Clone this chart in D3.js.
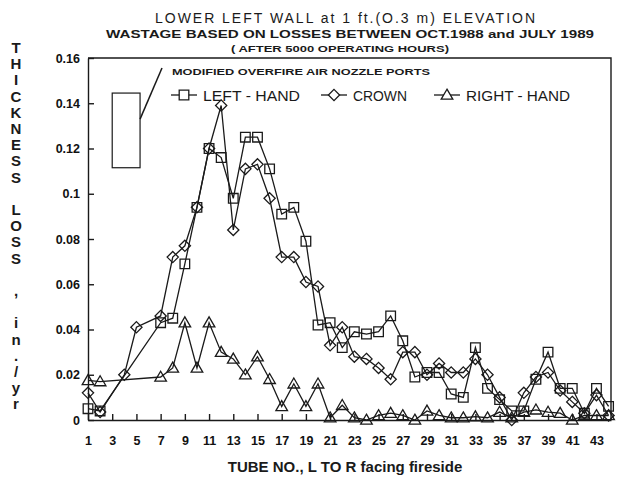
<!DOCTYPE html>
<html>
<head>
<meta charset="utf-8">
<title>Lower left wall wastage</title>
<script src="https://d3js.org/d3.v7.min.js"></script>
<style>
    body { margin: 0; background: #fff; }
    svg { display: block; font-family: "Liberation Sans", Arial, sans-serif; }
    .tick text { font-weight: bold; font-size: 12.5px; fill: #111; }
</style>
</head>
<body>
<svg width="621" height="478"></svg>
<script>
    // tube numbers and thickness loss (in./yr)
    const leftTubes = [1,2,7,8,9,10,11,12,13,14,15,16,17,18,19,20,21,22,23,24,25,26,27,28,29,30,31,32,33,34,35,36,37,38,39,40,41,42,43,44];
    const leftVals = [0.005,0.004,0.043,0.045,0.069,0.094,0.120,0.116,0.098,0.125,0.125,0.111,0.091,0.094,0.079,0.042,0.043,0.032,0.039,0.038,0.039,0.046,0.035,0.019,0.021,0.021,0.0115,0.010,0.032,0.014,0.009,0.004,0.004,0.018,0.030,0.014,0.014,0.003,0.014,0.006];

    const crownTubes = [1,2,4,5,7,8,9,10,11,12,13,14,15,16,17,18,19,20,21,22,23,24,25,26,27,28,29,30,31,32,33,34,35,36,37,38,39,40,41,42,43,44];
    const crownVals = [0.012,0.0035,0.020,0.041,0.046,0.072,0.077,0.094,0.120,0.139,0.084,0.111,0.113,0.098,0.072,0.072,0.061,0.059,0.033,0.041,0.028,0.027,0.023,0.018,0.030,0.030,0.020,0.025,0.021,0.021,0.027,0.020,0.010,0,0.012,0.019,0.021,0.013,0.008,0.003,0.011,0.002];

    const rightTubes = [1,2,7,8,9,10,11,12,13,14,15,16,17,18,19,20,21,22,23,24,25,26,27,28,29,30,31,32,33,34,35,36,37,38,39,40,41,42,43,44];
    const rightVals = [0.0175,0.017,0.019,0.023,0.043,0.023,0.043,0.030,0.027,0.020,0.028,0.018,0.006,0.016,0.006,0.016,0.001,0.0065,0.001,0,0.002,0.003,0.002,0,0.004,0.002,0.001,0.001,0.0015,0.001,0.0035,0.001,0.0035,0.0045,0.0035,0.003,0,0.002,0.002,0.002];

    const xTicks = d3.range(1, 44, 2);
    const yTicks = [0, 0.02, 0.04, 0.06, 0.08, 0.1, 0.12, 0.14, 0.16];
    const seriesNames = ["LEFT - HAND", "CROWN", "RIGHT - HAND"];
    const yLetters = ["T","H","I","C","K","N","E","S","S","","L","O","S","S","",",","","i","n",".","/","y","r"];
    // overfire air nozzle ports marker (tube range, loss range)
    const portTubes = [3, 5.3];
    const portVals = [0.1115, 0.1445];

    const ink = "#1a1a1a";
    let svg = d3.select("svg");
    let x = d3.scaleLinear().domain([1, 44.2]).range([88, 611]);
    let y = d3.scaleLinear().domain([0, 0.16]).range([420, 58]);

    // marker shapes
    function marker(kind) {
        if (kind == 0) return "M-4.8,-4.8H4.8V4.8H-4.8Z";
        if (kind == 1) return "M0,-5.6L5.6,0L0,5.6L-5.6,0Z";
        return "M0,-5.8L5.8,4.2H-5.8Z";
    }

    // titles
    svg.append("text").attr("x", 345).attr("y", 23).attr("text-anchor", "middle")
        .attr("font-size", 14).attr("fill", ink).attr("textLength", 380)
        .text("LOWER LEFT WALL at 1 ft.(O.3 m) ELEVATION");
    svg.append("text").attr("x", 350).attr("y", 38).attr("text-anchor", "middle")
        .attr("font-size", 11).attr("font-weight", "bold").attr("fill", ink)
        .attr("textLength", 488).attr("lengthAdjust", "spacingAndGlyphs")
        .text("WASTAGE BASED ON LOSSES BETWEEN OCT.1988 and JULY 1989");
    svg.append("text").attr("x", 340).attr("y", 52).attr("text-anchor", "middle")
        .attr("font-size", 8.5).attr("font-weight", "bold").attr("fill", ink)
        .attr("textLength", 218).attr("lengthAdjust", "spacingAndGlyphs")
        .text("( AFTER 5000 OPERATING HOURS)");

    // axes
    let xAxis = d3.axisBottom(x).tickValues(xTicks).tickSizeInner(-6).tickSizeOuter(0).tickPadding(16);
    let yAxis = d3.axisLeft(y).tickValues(yTicks).tickSizeInner(-6).tickSizeOuter(0).tickPadding(8)
        .tickFormat(d => d == 0 ? "0" : String(+d.toFixed(2)));

    let gx = svg.append("g").attr("transform", "translate(0,420)").call(xAxis);
    let gy = svg.append("g").attr("transform", "translate(88,0)").call(yAxis);
    svg.selectAll(".domain, .tick line").attr("stroke", ink).attr("stroke-width", 1.4);
    gx.selectAll(".tick text").attr("font-size", 13);

    // frame top/right
    svg.append("path")
        .attr("d", `M${x(1)},${y(0.16)}H${x(44.2)}V${y(0)}`)
        .attr("fill", "none").attr("stroke", ink).attr("stroke-width", 1.4);

    // axis titles
    svg.append("text").attr("x", 345).attr("y", 472).attr("text-anchor", "middle")
        .attr("font-size", 15).attr("font-weight", "bold").attr("fill", ink)
        .text("TUBE NO., L TO R facing fireside");

    svg.append("g").selectAll("text").data(yLetters).enter().append("text")
        .attr("x", 16).attr("y", (d, i) => 53 + i * 16.2)
        .attr("text-anchor", "middle").attr("font-size", 15).attr("font-weight", "900")
        .attr("fill", ink).text(d => d);

    // series
    let series = [
        { tubes: leftTubes, vals: leftVals },
        { tubes: crownTubes, vals: crownVals },
        { tubes: rightTubes, vals: rightVals }
    ];
    let line = d3.line().x(d => x(d[0])).y(d => y(d[1]));

    series.forEach(function(s, k) {
        let pts = s.tubes.map((t, i) => [t, s.vals[i]]);
        svg.append("path").datum(pts).attr("d", line)
            .attr("fill", "none").attr("stroke", ink).attr("stroke-width", 1.3);
        svg.append("g").selectAll("path").data(pts).enter().append("path")
            .attr("transform", d => `translate(${x(d[0])},${y(d[1])})`)
            .attr("d", marker(k))
            .attr("fill", "none").attr("stroke", ink).attr("stroke-width", 1.3);
    });

    // nozzle ports box and pointer
    svg.append("rect")
        .attr("x", x(portTubes[0])).attr("y", y(portVals[1]))
        .attr("width", x(portTubes[1]) - x(portTubes[0]))
        .attr("height", y(portVals[0]) - y(portVals[1]))
        .attr("fill", "none").attr("stroke", ink).attr("stroke-width", 1.2);
    svg.append("line")
        .attr("x1", x(portTubes[1])).attr("y1", y(0.133))
        .attr("x2", 162).attr("y2", 68)
        .attr("stroke", ink).attr("stroke-width", 1.5);
    svg.append("text").attr("x", 172).attr("y", 75)
        .attr("font-size", 9).attr("font-weight", "900").attr("fill", ink)
        .attr("textLength", 258).attr("lengthAdjust", "spacingAndGlyphs")
        .text("MODIFIED OVERFIRE AIR NOZZLE PORTS");

    // legend
    let legX = [171, 321, 434];
    let legW = [97, 54, 104];
    let leg = svg.append("g");
    seriesNames.forEach(function(name, k) {
        let g = leg.append("g").attr("transform", `translate(${legX[k]},95)`);
        g.append("line").attr("x1", 0).attr("x2", 26).attr("stroke", ink).attr("stroke-width", 1.3);
        g.append("path").attr("transform", "translate(13,0)").attr("d", marker(k))
            .attr("fill", "#fff").attr("stroke", ink).attr("stroke-width", 1.3);
        g.append("text").attr("x", 32).attr("y", 5.5).attr("font-size", 14.5).attr("fill", ink)
            .attr("textLength", legW[k]).attr("lengthAdjust", "spacingAndGlyphs").text(name);
    });
</script>
</body>
</html>
